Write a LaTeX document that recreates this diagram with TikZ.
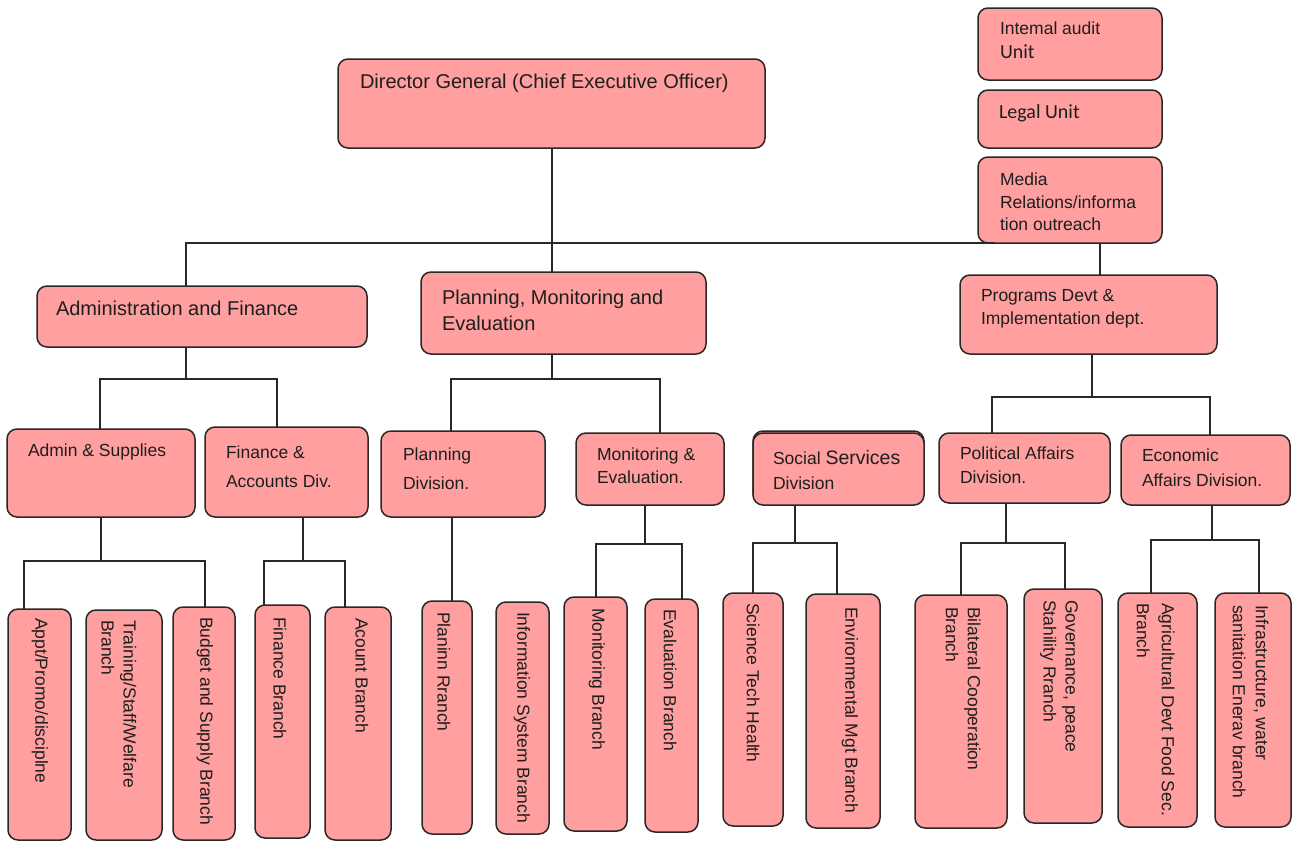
\documentclass[tikz,border=0pt]{standalone}
\usepackage{fontspec}
\setmainfont{Liberation Sans}
\newfontfamily\carl{Carlito}
\definecolor{boxfill}{RGB}{255,159,159}
\definecolor{edge}{RGB}{40,40,40}
\definecolor{ink}{RGB}{30,30,30}
\newcommand{\fs}[2]{\fontsize{#1bp}{#2bp}\selectfont}
\newcommand{\mybox}[5]{\node[box, anchor=north west, minimum width={(#4-#2)*1bp}, minimum height={(#5-#3)*1bp}] (#1) at (#2,#3) {};}
% parent, junction x, junction y, left x, left child, right x, right child
\newcommand{\fork}[7]{%
  \coordinate (#1J) at (#2,#3);
  \coordinate (#1L) at (#4,#3);
  \coordinate (#1R) at (#6,#3);
  \draw[link] (#1.south -| #1J) -- (#1J);
  \draw[link] (#5.north -| #1L) -- (#1L) -- (#1R) -- (#1R |- #7.north);}
\begin{document}
\begin{tikzpicture}[x=1bp,y=-1bp,
  box/.style={draw=edge, fill=boxfill, line width=1.5bp, rounded corners=10bp, inner sep=0pt, outer sep=0pt},
  txt/.style={inner sep=0pt, outer sep=0pt, text=ink, align=left, font=\fs{17.5}{23}},
  big/.style={font=\fs{20}{26}},
  vtxt/.style={txt, rotate=-90, anchor=west},
  link/.style={draw=edge, line width=1.4bp}]
\useasboundingbox[fill=white] (0,0) rectangle (1292,841);

% ---------- boxes ----------
\mybox{audit}{978}{8}{1162}{80}
\mybox{legal}{978}{90}{1162}{148}
\mybox{media}{978}{157}{1162}{243}
\mybox{dg}{338}{59}{765}{148}
\mybox{af}{37}{286}{367}{347}
\mybox{pme}{421}{272}{706}{354}
\mybox{pdi}{960}{275}{1217}{354}
\mybox{as}{7}{429}{195}{517}
\mybox{fa}{205}{427}{368}{517}
\mybox{pd}{381}{431}{545}{517}
\mybox{me}{576}{433}{724}{505}
\mybox{sssh}{753}{431}{924}{503}
\mybox{ss}{753}{433}{924}{505}
\mybox{pa}{939}{433}{1110}{503}
\mybox{ea}{1121}{435}{1290}{505}
\mybox{bA}{8}{609}{71}{840}
\mybox{bB}{86}{610}{162}{840}
\mybox{bC}{173}{607}{235}{840}
\mybox{bD}{255}{605}{310}{838}
\mybox{bE}{325}{607}{391}{840}
\mybox{bF}{422}{601}{472}{834}
\mybox{bG}{496}{602}{549}{834}
\mybox{bH}{564}{597}{627}{831}
\mybox{bI}{645}{599}{698}{832}
\mybox{bJ}{723}{593}{783}{826}
\mybox{bK}{806}{594}{880}{828}
\mybox{bL}{915}{595}{1007}{828}
\mybox{bM}{1024}{589}{1102}{823}
\mybox{bN}{1118}{593}{1197}{827}
\mybox{bO}{1215}{593}{1291}{827}

% ---------- connectors ----------
\coordinate (dgJ) at (552,148);
\draw[link] (dgJ) -- (dgJ |- pme.north);
\coordinate (hL) at (186,243);
\coordinate (hR) at (995,243);
\draw[link] (af.north -| hL) -- (hL) -- (hR);
\coordinate (mD) at (1100,243);
\draw[link] (mD) -- (mD |- pdi.north);

\fork{af}{186}{379}{100}{as}{277}{fa}
\fork{pme}{552}{379}{451}{pd}{660}{me}
\fork{pdi}{1092}{397}{992}{pa}{1210}{ea}
\fork{as}{101}{561}{24}{bA}{205}{bC}
\fork{fa}{303}{561}{264}{bD}{345}{bE}
\coordinate (pdJ) at (452,517);
\draw[link] (pd.south -| pdJ) -- (pdJ |- bF.north);
\fork{me}{645}{544}{596}{bH}{682}{bI}
\fork{ss}{795}{543}{753}{bJ}{837}{bK}
\fork{pa}{1006}{543}{961}{bL}{1065}{bM}
\fork{ea}{1212}{540}{1151}{bN}{1259}{bO}

% ---------- texts ----------
\node[txt, anchor=west, font=\fs{17.5}{24}] (auditT) at (1000,40) {Intemal audit\\{\carl\fs{20}{24}Unit}};
\node[txt, anchor=west] (legalT) at (999,113) {\carl\fs{20}{24}Legal Unit};
\node[txt, anchor=west, font=\fs{17.5}{22.5}] (mediaT) at (1000,202) {Media\\Relations/informa\\tion outreach};
\node[txt, big, anchor=west] (dgT) at (360,83) {Director General (Chief Executive Officer)};
\node[txt, big, anchor=west] (afT) at (56,308) {Administration and Finance};
\node[txt, big, anchor=west] (pmeT) at (442,310) {Planning, Monitoring and\\Evaluation};
\node[txt, anchor=west] (pdiT) at (981,308.5) {Programs Devt \&\\Implementation dept.};
\node[txt, anchor=west] (asT) at (28,452) {Admin \& Supplies};
\node[txt, anchor=west, font=\fs{17.5}{29}] (faT) at (226,466.5) {Finance \&\\Accounts Div.};
\node[txt, anchor=west, font=\fs{17.5}{29}] (pdT) at (403,468.5) {Planning\\Division.};
\node[txt, anchor=west] (meT) at (597,465.5) {Monitoring \&\\Evaluation.};
\node[txt, anchor=west, font=\fs{17.5}{25}] (ssT) at (773,470.5) {Social {\fs{19.5}{25}Services}\\Division};
\node[txt, anchor=west, font=\fs{17.5}{24}] (paT) at (960,465) {Political Affairs\\Division.};
\node[txt, anchor=west, font=\fs{17.5}{25}] (eaT) at (1142,467.5) {Economic\\Affairs Division.};

\node[vtxt] (bAT) at (40,618) {Appt/Promo/disciplne};
\node[vtxt, font=\fs{17.5}{22}] (bBT) at (119,620) {Training/Staff/Welfare\\Branch};
\node[vtxt] (bCT) at (205,617) {Budget and Supply Branch};
\node[vtxt] (bDT) at (280,617) {Finance Branch};
\node[vtxt] (bET) at (362,618) {Acount Branch};
\node[vtxt] (bFT) at (444,612) {Planinn Rranch};
\node[vtxt] (bGT) at (522,612) {Information System Branch};
\node[vtxt] (bHT) at (597,608) {Monitoring Branch};
\node[vtxt] (bIT) at (670,609) {Evaluation Branch};
\node[vtxt] (bJT) at (753,603) {Science Tech Health};
\node[vtxt] (bKT) at (850,607) {Environmental Mgt Branch};
\node[vtxt, font=\fs{17.5}{22}] (bLT) at (963,607) {Bilateral Cooperation\\Branch};
\node[vtxt, font=\fs{17.5}{22}] (bMT) at (1059,600) {Governance, peace\\Stahility Rranch};
\node[vtxt, font=\fs{17.5}{25}] (bNT) at (1155.5,603) {Agricultural Devt Food Sec.\\Branch};
\node[vtxt, font=\fs{17.5}{23}] (bOT) at (1250.5,605) {Infrastructure, water\\sanitation Enerav branch};
\end{tikzpicture}
\end{document}
